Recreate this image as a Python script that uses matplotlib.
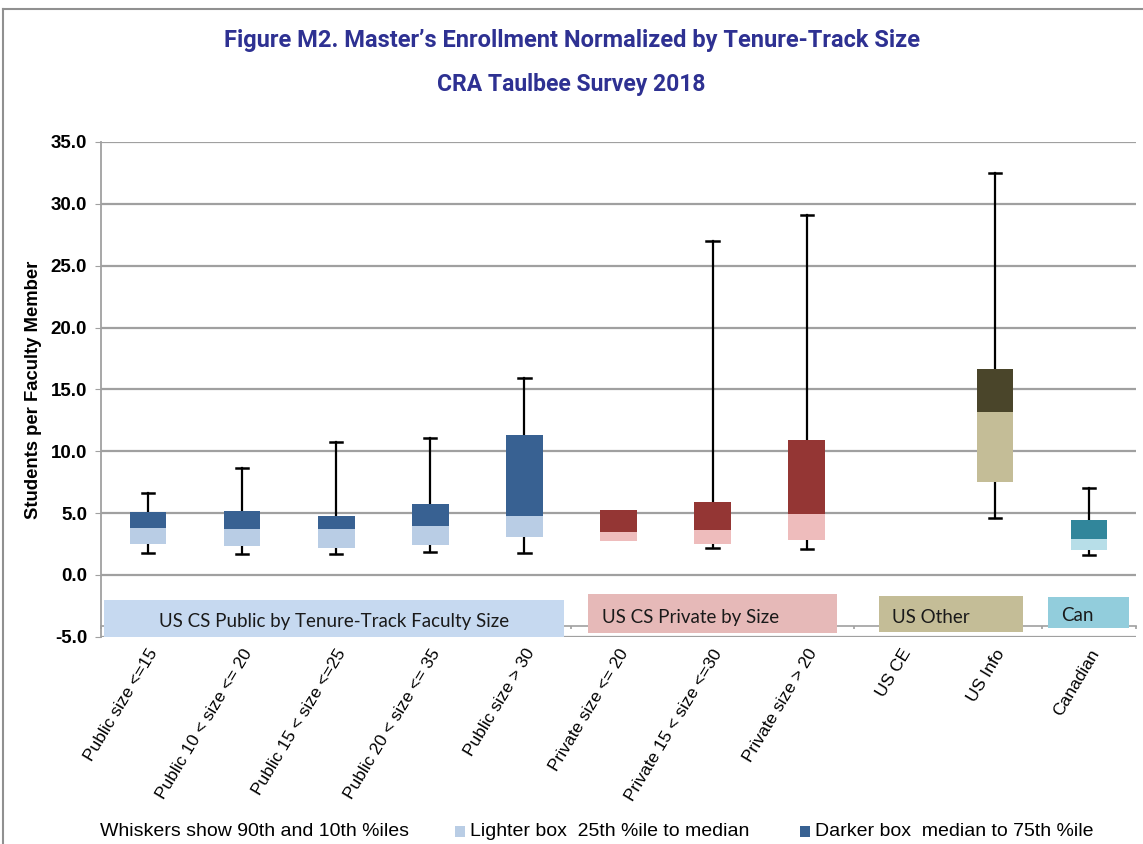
import numpy as np
import matplotlib.pyplot as plt
from matplotlib.patches import Rectangle

# ----- data -----
categories = ["Public size <=15", "Public 10 < size <= 20", "Public 15 < size <=25",
              "Public 20 < size <= 35", "Public size > 30", "Private size <= 20",
              "Private 15 < size <=30", "Private size > 20", "US CE", "US Info", "Canadian"]
p10 = [1.76, 1.68, 1.68, 1.81, 1.76, np.nan, 2.14, 2.10, np.nan, 4.56, 1.59]
q1 = [2.52, 2.36, 2.14, 2.44, 3.06, 2.75, 2.51, 2.83, np.nan, 7.50, 2.05]
med = [3.79, 3.68, 3.68, 3.93, 4.74, 3.43, 3.64, 4.91, np.nan, 13.16, 2.86]
q3 = [5.09, 5.20, 4.74, 5.69, 11.33, 5.26, 5.91, 10.92, np.nan, 16.64, 4.45]
p90 = [6.58, 8.67, 10.76, 11.08, 15.94, np.nan, 27.02, 29.10, np.nan, 32.52, 7.04]

group_of = [0, 0, 0, 0, 0, 1, 1, 1, 2, 2, 3]
light_colors = ["#b9cde5", "#eebcbc", "#c4bd97", "#b7dee8"]
dark_colors = ["#386192", "#943634", "#4a452a", "#31869b"]

group_names = ["US CS Public by Tenure-Track Faculty Size", "US CS Private by Size", "US Other", "Can"]
group_box_colors = ["#c6d9f0", "#e6b9b8", "#c4bd97", "#92cddc"]
# box extents in category units (left, right, bottom, top) and text alignment
group_boxes = [(-0.47, 4.42, -4.99, -2.02, "center"),
               (4.68, 7.32, -4.72, -1.56, "left"),
               (7.77, 9.30, -4.59, -1.70, "left"),
               (9.56, 10.43, -4.26, -1.76, "left")]

yticks = np.arange(-5, 35.1, 5)

W, H = 1143, 844
fig = plt.figure(figsize=(W / 100, H / 100), dpi=100)
ax = fig.add_axes([101 / W, 1 - 636.7 / H, (1136 - 101) / W, (636.7 - 142) / H])

x = np.arange(len(categories))
bw = 0.39
lc = [light_colors[g] for g in group_of]
dc = [dark_colors[g] for g in group_of]
q1a, meda, q3a = np.array(q1), np.array(med), np.array(q3)

# whiskers
for i in x:
    if not np.isnan(p90[i]):
        ax.plot([i, i], [q3[i], p90[i]], color="black", lw=1.6, zorder=2)
        ax.plot([i - 0.065, i + 0.065], [p90[i], p90[i]], color="black", lw=1.8, zorder=2)
    if not np.isnan(p10[i]):
        ax.plot([i, i], [q1[i], p10[i]], color="black", lw=1.6, zorder=2)
        ax.plot([i - 0.065, i + 0.065], [p10[i], p10[i]], color="black", lw=1.8, zorder=2)

ax.bar(x, meda - q1a, bottom=q1a, width=bw, color=lc, zorder=3)
ax.bar(x, q3a - meda, bottom=meda, width=bw, color=dc, zorder=3)

ax.set_xlim(-0.5, len(categories) - 0.5)
ax.set_ylim(-5, 35)
ax.set_yticks(yticks)
ax.set_yticklabels([f"{v:.1f}" for v in yticks], fontsize=13.5, fontweight="bold",
                   family="Liberation Sans")
for v in yticks:
    ax.axhline(v, color="#a0a0a0", lw=1.6, zorder=0)
for s in ["top", "right", "bottom"]:
    ax.spines[s].set_visible(False)
ax.spines["left"].set_color("#a0a0a0")
ax.spines["left"].set_linewidth(1.3)
ax.tick_params(axis="y", length=4, color="#a0a0a0", pad=6)

ax.set_xticks(x)
ax.set_xticklabels(categories, rotation=59, ha="right", rotation_mode="anchor",
                   fontsize=12.5, family="Liberation Sans")
ax.tick_params(axis="x", length=0, pad=7)

ax.set_ylabel("Students per Faculty Member", fontsize=13.3, fontweight="bold",
              family="Liberation Sans", labelpad=6)

# category axis line with boundary ticks
ax.plot([-0.5, len(categories) - 0.5], [-4.1, -4.1], color="#a0a0a0", lw=1.2,
        zorder=1, clip_on=False)
ax.vlines(np.arange(-0.5, len(categories)), -4.1, -4.35, color="#a0a0a0", lw=1.2,
          zorder=1, clip_on=False)

# group label boxes
for name, col, (l, r, b, t, al) in zip(group_names, group_box_colors, group_boxes):
    ax.add_patch(Rectangle((l, b), r - l, t - b, facecolor=col, edgecolor="none",
                           zorder=4, clip_on=False))
    tx = (l + r) / 2 if al == "center" else l + 0.14
    ax.text(tx, (b + t) / 2 - 0.3, name, ha=al, va="center", fontsize=13.5,
            family=["Lato", "DejaVu Sans"], color="#1a1a1a", zorder=5, clip_on=False)

# titles
title_font = ["DejaVu Sans Condensed", "Liberation Sans Narrow", "Roboto"]
fig.text(0.5, 1 - 40 / H, "Figure M2. Master\u2019s Enrollment Normalized by Tenure-Track Size",
         ha="center", va="center", fontsize=17, fontweight="bold", color="#2e3192",
         family=title_font)
fig.text(0.5, 1 - 85 / H, "CRA Taulbee Survey 2018", ha="center", va="center",
         fontsize=16.5, fontweight="bold", color="#2e3192", family=title_font)

# bottom key
ky = 1 - 832 / H
kfs = 14
fig.text(100 / W, ky, "Whiskers show 90th and 10th %iles", ha="left", va="center",
         fontsize=kfs, family="Liberation Sans")
fig.patches.append(Rectangle((455 / W, ky - 5 / H), 10 / W, 11 / H, facecolor=light_colors[0],
                             transform=fig.transFigure, figure=fig))
fig.text(470 / W, ky, "Lighter box  25th %ile to median", ha="left", va="center",
         fontsize=kfs, family="Liberation Sans")
fig.patches.append(Rectangle((800 / W, ky - 5 / H), 10 / W, 11 / H, facecolor=dark_colors[0],
                             transform=fig.transFigure, figure=fig))
fig.text(815 / W, ky, "Darker box  median to 75th %ile", ha="left", va="center",
         fontsize=kfs, family="Liberation Sans")

# outer frame
fig.add_artist(plt.Line2D([3 / W, 3 / W], [0, 1 - 9 / H], color="#909090", lw=1.5,
                          transform=fig.transFigure))
fig.add_artist(plt.Line2D([3 / W, 1], [1 - 9 / H, 1 - 9 / H], color="#909090", lw=1.5,
                          transform=fig.transFigure))

fig.savefig("out.png", dpi=100)
